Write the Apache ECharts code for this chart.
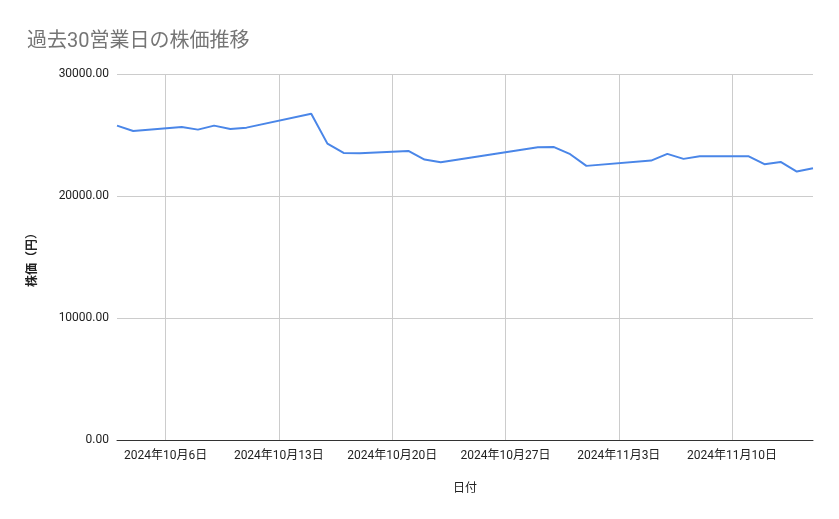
<!DOCTYPE html>
<html>
<head>
<meta charset="utf-8">
<script src="https://cdn.jsdelivr.net/npm/echarts@6/dist/echarts.min.js"></script>
<style>
html,body{margin:0;padding:0;background:#fff;}
#c{width:839px;height:519px;}
</style>
</head>
<body>
<div id="c"></div>
<script>
const chartTitle = '過去30営業日の株価推移';
const xAxisTitle = '日付';
const yAxisTitle = '株価（円）';
const dates = ['2024-10-03','2024-10-04','2024-10-07','2024-10-08','2024-10-09','2024-10-10','2024-10-11',
  '2024-10-15','2024-10-16','2024-10-17','2024-10-18','2024-10-21','2024-10-22','2024-10-23','2024-10-24',
  '2024-10-25','2024-10-28','2024-10-29','2024-10-30','2024-10-31','2024-11-01','2024-11-05','2024-11-06',
  '2024-11-07','2024-11-08','2024-11-11','2024-11-12','2024-11-13','2024-11-14','2024-11-15'];
const prices = [25767,25333,25661,25440,25767,25497,25604,
  26750,24294,23533,23508,23696,22984,22771,22976,
  23181,23795,24000,24008,23426,22469,22903,23451,
  23042,23263,23263,22608,22796,22002,22280];
const xStart = '2024-10-03';
const xEnd = '2024-11-15';
const xTickDates = ['2024-10-06','2024-10-13','2024-10-20','2024-10-27','2024-11-03','2024-11-10'];
const yTicks = [0, 10000, 20000, 30000];

const DAY = 86400000;
const baseMs = Date.UTC(2024, 9, 6);
function dayOf(s){ const p = s.split('-').map(Number); return Math.round((Date.UTC(p[0], p[1]-1, p[2]) - baseMs) / DAY); }
function labelOf(d){ const t = new Date(baseMs + Math.round(d) * DAY); return t.getUTCFullYear() + '年' + (t.getUTCMonth()+1) + '月' + t.getUTCDate() + '日'; }

const seriesData = dates.map((d, i) => [dayOf(d), prices[i]]);
const xTickValues = xTickDates.map(dayOf);
const font = 'Roboto, "Noto Sans CJK JP", sans-serif';

const chart = echarts.init(document.getElementById('c'), null, {renderer: 'canvas'});
chart.setOption({
  animation: false,
  backgroundColor: '#ffffff',
  title: {
    text: chartTitle, left: 22, top: 27,
    textStyle: {fontFamily: font, fontSize: 20, fontWeight: 'normal', color: '#757575'}
  },
  grid: {left: 117, right: 26, top: 74, bottom: 79, containLabel: false},
  xAxis: {
    type: 'value',
    min: dayOf(xStart), max: dayOf(xEnd),
    name: xAxisTitle, nameLocation: 'middle', nameGap: 43,
    nameTextStyle: {fontFamily: font, fontSize: 12, color: '#222'},
    axisLine: {show: true, lineStyle: {color: '#333', width: 1}},
    axisTick: {show: false, customValues: xTickValues},
    axisLabel: {
      fontFamily: font, fontSize: 12, color: '#222', margin: 10,
      customValues: xTickValues,
      formatter: v => labelOf(v)
    },
    splitLine: {show: true, lineStyle: {color: '#cccccc', width: 1}}
  },
  yAxis: {
    type: 'value',
    min: yTicks[0], max: yTicks[yTicks.length-1], interval: yTicks[1] - yTicks[0],
    name: yAxisTitle, nameLocation: 'middle', nameGap: 78,
    nameTextStyle: {fontFamily: font, fontSize: 12, color: '#222', fontWeight: 'bold'},
    axisLine: {show: false},
    axisTick: {show: false},
    axisLabel: {fontFamily: font, fontSize: 12, color: '#222', margin: 8, formatter: v => v.toFixed(2)},
    splitLine: {show: true, lineStyle: {color: '#cccccc', width: 1}}
  },
  series: [{
    type: 'line',
    data: seriesData,
    showSymbol: false,
    lineStyle: {color: '#4a86e8', width: 2},
    itemStyle: {color: '#4a86e8'}
  }]
});
</script>
</body>
</html>
